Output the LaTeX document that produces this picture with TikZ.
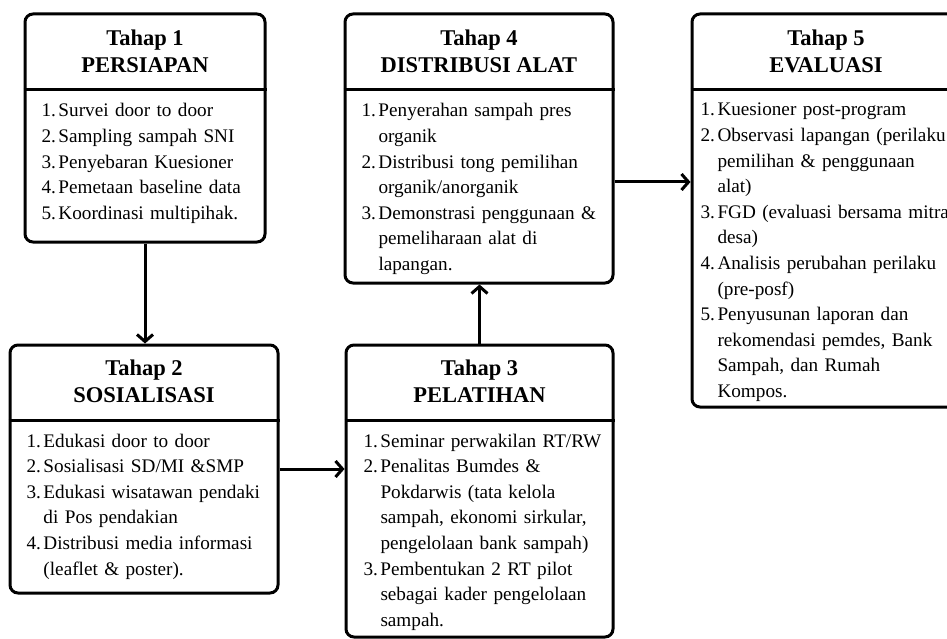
\documentclass[tikz,border=0pt]{standalone}
\usepackage{fontspec}
\setmainfont{Liberation Serif}
\usetikzlibrary{arrows.meta}
\newlength{\numw}
\setlength{\numw}{17pt}
\newcommand{\itemno}[1]{\makebox[\numw][l]{#1}}
\newcommand{\itemcont}{\hspace*{\numw}}
\begin{document}
\begin{tikzpicture}[x=1pt, y=-1pt, line width=3pt,
  stagebox/.style={draw=black, line width=3pt, rounded corners=8pt, inner sep=0pt},
  headtext/.style={font=\bfseries\fontsize{22.5}{27}\selectfont, align=center, inner sep=0pt},
  bodytext/.style={font=\fontsize{19.2}{25.6}\selectfont, text width=300pt, align=left, anchor=base west, inner sep=0pt},
  flow/.style={line width=3pt, -{Straight Barb[length=7pt,width=16pt]}}]
\useasboundingbox[fill=white] (0,0) rectangle (947,639);
% stage boxes
\node[stagebox, minimum width=240pt, minimum height=228pt] (t1) at (145,128) {};
\node[stagebox, minimum width=268pt, minimum height=248pt] (t2) at (144,469) {};
\node[stagebox, minimum width=267pt, minimum height=292pt] (t3) at (479.5,491) {};
\node[stagebox, minimum width=268pt, minimum height=269pt] (t4) at (479,148.5) {};
\node[stagebox, minimum width=268pt, minimum height=393pt] (t5) at (826,210.5) {};
% header dividers
\draw (t1.west |- 0,90) -- (t1.east |- 0,90);
\draw (t2.west |- 0,420) -- (t2.east |- 0,420);
\draw (t3.west |- 0,420) -- (t3.east |- 0,420);
\draw (t4.west |- 0,90) -- (t4.east |- 0,90);
\draw (t5.west |- 0,90) -- (t5.east |- 0,90);
% headers
\node[headtext] (h1) at (145,51) {Tahap 1\\PERSIAPAN};
\node[headtext] (h2) at (144,381) {Tahap 2\\SOSIALISASI};
\node[headtext] (h3) at (479.5,381) {Tahap 3\\PELATIHAN};
\node[headtext] (h4) at (479,51) {Tahap 4\\DISTRIBUSI ALAT};
\node[headtext] (h5) at (826,51) {Tahap 5\\EVALUASI};
% lists
\node[bodytext] (b1) at (40,117) {\itemno{1.}Survei door to door\\
  \itemno{2.}Sampling sampah SNI\\
  \itemno{3.}Penyebaran Kuesioner\\
  \itemno{4.}Pemetaan baseline data\\
  \itemno{5.}Koordinasi multipihak.};
\node[bodytext] (b2) at (25,447) {\itemno{1.}Edukasi door to door\\
  \itemno{2.}Sosialisasi SD/MI \&SMP\\
  \itemno{3.}Edukasi wisatawan pendaki\\
  \itemcont di Pos pendakian\\
  \itemno{4.}Distribusi media informasi\\
  \itemcont (leaflet \& poster).};
\node[bodytext] (b3) at (362,447) {\itemno{1.}Seminar perwakilan RT/RW\\
  \itemno{2.}Penalitas Bumdes \&\\
  \itemcont Pokdarwis (tata kelola\\
  \itemcont sampah, ekonomi sirkular,\\
  \itemcont pengelolaan bank sampah)\\
  \itemno{3.}Pembentukan 2 RT pilot\\
  \itemcont sebagai kader pengelolaan\\
  \itemcont sampah.};
\node[bodytext] (b4) at (360,117) {\itemno{1.}Penyerahan sampah pres\\
  \itemcont organik\\
  \itemno{2.}Distribusi tong pemilihan\\
  \itemcont organik/anorganik\\
  \itemno{3.}Demonstrasi penggunaan \&\\
  \itemcont pemeliharaan alat di\\
  \itemcont lapangan.};
\node[bodytext] (b5) at (699,116) {\itemno{1.}Kuesioner post-program\\
  \itemno{2.}Observasi lapangan (perilaku\\
  \itemcont pemilihan \& penggunaan\\
  \itemcont alat)\\
  \itemno{3.}FGD (evaluasi bersama mitra\\
  \itemcont desa)\\
  \itemno{4.}Analisis perubahan perilaku\\
  \itemcont (pre-posf)\\
  \itemno{5.}Penyusunan laporan dan\\
  \itemcont rekomendasi pemdes, Bank\\
  \itemcont Sampah, dan Rumah\\
  \itemcont Kompos.};
% arrows
\coordinate (a45) at (650,182);
\draw[flow] (t1.south) -- (t1.south |- t2.north);
\draw[flow] (t2.east) -- (t2.east -| t3.west);
\draw[flow] (t3.north) -- (t3.north |- t4.south);
\draw[flow] (t4.east |- a45) -- (t5.west |- a45);
\end{tikzpicture}
\end{document}
